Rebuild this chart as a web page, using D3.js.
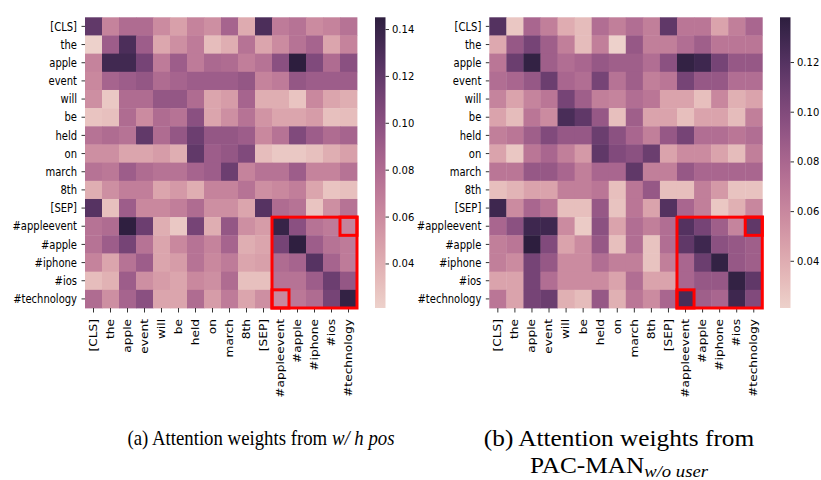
<!DOCTYPE html>
<html>
<head>
<meta charset="utf-8">
<script src="https://cdn.jsdelivr.net/npm/d3@7"></script>
<style>
  body { margin: 0; background: #fff; }
  svg { display: block; }
  .tick text { font-family: "DejaVu Sans", sans-serif; font-size: 10px; fill: #000; }
  .tick line { stroke: #333; }
  .domain { display: none; }
  .caption { font-family: "Liberation Serif", "Times New Roman", serif; fill: #000; }
</style>
</head>
<body>
<div id="chart"></div>
<script>
// tokens on both axes
const tokens = ["[CLS]", "the", "apple", "event", "will", "be", "held", "on", "march", "8th",
                "[SEP]", "#appleevent", "#apple", "#iphone", "#ios", "#technology"];

// (a) attention weights, w/ h pos  (rows = query token, cols = key token)
const weightsA = [
  [0.120, 0.065, 0.080, 0.080, 0.060, 0.048, 0.065, 0.058, 0.085, 0.042, 0.130, 0.070, 0.075, 0.060, 0.065, 0.075],
  [0.021, 0.090, 0.130, 0.090, 0.044, 0.058, 0.070, 0.032, 0.040, 0.075, 0.045, 0.060, 0.075, 0.085, 0.045, 0.065],
  [0.065, 0.135, 0.135, 0.110, 0.070, 0.090, 0.070, 0.082, 0.080, 0.068, 0.075, 0.100, 0.145, 0.105, 0.080, 0.100],
  [0.062, 0.085, 0.090, 0.095, 0.080, 0.085, 0.090, 0.090, 0.090, 0.095, 0.065, 0.070, 0.095, 0.090, 0.090, 0.090],
  [0.058, 0.026, 0.080, 0.080, 0.095, 0.095, 0.080, 0.045, 0.050, 0.085, 0.040, 0.040, 0.028, 0.062, 0.045, 0.040],
  [0.028, 0.030, 0.080, 0.060, 0.080, 0.075, 0.100, 0.045, 0.058, 0.075, 0.055, 0.045, 0.045, 0.050, 0.030, 0.032],
  [0.075, 0.080, 0.075, 0.120, 0.080, 0.095, 0.115, 0.095, 0.095, 0.090, 0.062, 0.075, 0.105, 0.090, 0.080, 0.085],
  [0.058, 0.058, 0.045, 0.045, 0.050, 0.040, 0.120, 0.090, 0.095, 0.105, 0.032, 0.026, 0.026, 0.030, 0.040, 0.048],
  [0.075, 0.072, 0.090, 0.080, 0.075, 0.075, 0.085, 0.090, 0.115, 0.065, 0.075, 0.075, 0.090, 0.065, 0.065, 0.075],
  [0.040, 0.058, 0.068, 0.068, 0.045, 0.052, 0.040, 0.065, 0.065, 0.075, 0.058, 0.062, 0.068, 0.045, 0.028, 0.030],
  [0.125, 0.030, 0.090, 0.062, 0.062, 0.068, 0.080, 0.058, 0.058, 0.045, 0.125, 0.080, 0.075, 0.028, 0.058, 0.075],
  [0.075, 0.080, 0.144, 0.115, 0.040, 0.026, 0.110, 0.040, 0.095, 0.058, 0.050, 0.140, 0.100, 0.075, 0.070, 0.065],
  [0.075, 0.090, 0.110, 0.075, 0.045, 0.062, 0.075, 0.065, 0.085, 0.040, 0.045, 0.110, 0.144, 0.090, 0.075, 0.070],
  [0.065, 0.045, 0.075, 0.090, 0.045, 0.050, 0.075, 0.062, 0.070, 0.045, 0.048, 0.080, 0.085, 0.125, 0.085, 0.070],
  [0.032, 0.038, 0.090, 0.058, 0.050, 0.045, 0.062, 0.058, 0.080, 0.030, 0.030, 0.075, 0.075, 0.090, 0.115, 0.095],
  [0.080, 0.058, 0.085, 0.100, 0.045, 0.045, 0.080, 0.050, 0.070, 0.045, 0.058, 0.062, 0.072, 0.080, 0.110, 0.142]
];

// (b) attention weights, PAC-MAN w/o user
const weightsB = [
  [0.120, 0.026, 0.080, 0.065, 0.040, 0.032, 0.075, 0.065, 0.075, 0.065, 0.115, 0.070, 0.070, 0.045, 0.065, 0.080],
  [0.042, 0.090, 0.105, 0.085, 0.065, 0.032, 0.065, 0.021, 0.090, 0.065, 0.065, 0.075, 0.085, 0.070, 0.070, 0.070],
  [0.070, 0.110, 0.135, 0.085, 0.075, 0.080, 0.090, 0.085, 0.085, 0.075, 0.095, 0.135, 0.130, 0.105, 0.090, 0.090],
  [0.075, 0.080, 0.090, 0.110, 0.080, 0.075, 0.105, 0.072, 0.085, 0.065, 0.070, 0.105, 0.090, 0.090, 0.075, 0.075],
  [0.062, 0.045, 0.062, 0.070, 0.105, 0.085, 0.065, 0.062, 0.075, 0.070, 0.045, 0.045, 0.030, 0.060, 0.038, 0.045],
  [0.045, 0.032, 0.070, 0.058, 0.125, 0.115, 0.090, 0.030, 0.085, 0.045, 0.045, 0.030, 0.045, 0.045, 0.032, 0.065],
  [0.065, 0.070, 0.085, 0.100, 0.090, 0.090, 0.110, 0.095, 0.080, 0.065, 0.090, 0.105, 0.075, 0.075, 0.070, 0.075],
  [0.045, 0.026, 0.070, 0.080, 0.065, 0.050, 0.115, 0.100, 0.095, 0.110, 0.045, 0.058, 0.058, 0.045, 0.032, 0.065],
  [0.070, 0.070, 0.090, 0.090, 0.080, 0.065, 0.080, 0.080, 0.115, 0.065, 0.065, 0.090, 0.080, 0.080, 0.080, 0.080],
  [0.030, 0.036, 0.045, 0.045, 0.065, 0.065, 0.070, 0.030, 0.070, 0.090, 0.030, 0.030, 0.065, 0.050, 0.028, 0.028],
  [0.130, 0.058, 0.080, 0.070, 0.030, 0.030, 0.090, 0.028, 0.070, 0.045, 0.120, 0.080, 0.065, 0.026, 0.038, 0.060],
  [0.080, 0.095, 0.130, 0.130, 0.058, 0.024, 0.095, 0.045, 0.075, 0.065, 0.075, 0.120, 0.105, 0.085, 0.062, 0.115],
  [0.065, 0.070, 0.138, 0.100, 0.045, 0.058, 0.090, 0.030, 0.075, 0.028, 0.075, 0.115, 0.130, 0.095, 0.090, 0.085],
  [0.065, 0.058, 0.105, 0.090, 0.058, 0.058, 0.075, 0.065, 0.065, 0.028, 0.065, 0.080, 0.110, 0.135, 0.090, 0.085],
  [0.045, 0.045, 0.105, 0.075, 0.058, 0.058, 0.058, 0.045, 0.075, 0.045, 0.045, 0.080, 0.090, 0.090, 0.135, 0.115],
  [0.070, 0.045, 0.105, 0.110, 0.038, 0.032, 0.090, 0.038, 0.070, 0.058, 0.080, 0.125, 0.085, 0.080, 0.130, 0.100]
];

const ticksA = [0.04, 0.06, 0.08, 0.10, 0.12, 0.14];
const ticksB = [0.04, 0.06, 0.08, 0.10, 0.12];

// highlighted blocks: [first row token, first col token, last row token, last col token]
const highlights = [
  ["#appleevent", "#appleevent", "#technology", "#technology"],
  ["#appleevent", "#technology", "#appleevent", "#technology"],
  ["#technology", "#appleevent", "#technology", "#appleevent"]
];

// seaborn default cubehelix_palette(as_cmap=True): start=0, rot=.4, hue=.8, light=.85, dark=.15
function cubehelixSns(t) {
  const x = 0.85 + (0.15 - 0.85) * t;
  const a = 0.8 * x * (1 - x) / 2;
  const phi = 2 * Math.PI * (0.4 * x);
  const f = (p0, p1) => Math.max(0, Math.min(1, x + a * (p0 * Math.cos(phi) + p1 * Math.sin(phi))));
  return d3.rgb(255 * f(-0.14861, 1.78277), 255 * f(-0.29227, -0.90649), 255 * f(1.97294, 0)).toString();
}

const width = 821, height = 480;
const stretch = 1.22; // the source figure is squashed wider than tall, so text runs taller

const svg = d3.select("#chart").append("svg")
              .attr("width", width)
              .attr("height", height);

function drawPanel(id, weights, ticks, left, right, cbLeft) {
  const top = 17.3, bottom = 308;
  const cells = [];
  weights.forEach((row, i) => row.forEach((v, j) => cells.push({row: tokens[i], col: tokens[j], v})));

  const x = d3.scaleBand().domain(tokens).range([left, right]);
  const y = d3.scaleBand().domain(tokens).range([top, bottom]);
  const color = d3.scaleSequential(cubehelixSns).domain(d3.extent(cells, d => d.v));

  const g = svg.append("g");

  g.append("g").selectAll("rect")
    .data(cells)
    .join("rect")
      .attr("x", d => x(d.col))
      .attr("y", d => y(d.row))
      .attr("width", x.bandwidth() + 0.4)
      .attr("height", y.bandwidth() + 0.4)
      .attr("fill", d => color(d.v));

  g.append("g")
    .attr("transform", `translate(${left},0)`)
    .call(d3.axisLeft(y).tickSize(3.5).tickPadding(4.5))
    .selectAll("text")
      .attr("transform", `scale(1,${stretch})`)
      .attr("dy", "0.34em");

  g.append("g")
    .attr("transform", `translate(0,${bottom})`)
    .call(d3.axisBottom(x).tickSize(4.5))
    .selectAll("text")
      .attr("transform", `rotate(-90) scale(${stretch},1)`)
      .attr("text-anchor", "end")
      .attr("dy", "0.34em")
      .attr("x", -9)
      .attr("y", 0);

  // red highlight boxes
  g.append("g").selectAll("rect")
    .data(highlights)
    .join("rect")
      .attr("x", d => x(d[1]))
      .attr("y", d => y(d[0]))
      .attr("width", d => x(d[3]) + x.bandwidth() - x(d[1]))
      .attr("height", d => y(d[2]) + y.bandwidth() - y(d[0]))
      .attr("fill", "none")
      .attr("stroke", "#ff0000")
      .attr("stroke-width", 3);

  // colorbar
  const [vmin, vmax] = color.domain();
  const grad = svg.append("defs").append("linearGradient")
    .attr("id", id)
    .attr("x1", 0).attr("y1", 1).attr("x2", 0).attr("y2", 0);
  d3.range(0, 1.0001, 0.05).forEach(t => {
    grad.append("stop").attr("offset", t).attr("stop-color", cubehelixSns(t));
  });
  const cbWidth = 10.5;
  g.append("rect")
    .attr("x", cbLeft).attr("y", top)
    .attr("width", cbWidth).attr("height", bottom - top)
    .attr("fill", `url(#${id})`);
  const cbScale = d3.scaleLinear().domain([vmin, vmax]).range([bottom, top]);
  g.append("g")
    .attr("transform", `translate(${cbLeft + cbWidth},0)`)
    .call(d3.axisRight(cbScale).tickValues(ticks).tickFormat(d3.format(".2f")).tickSize(3.5).tickPadding(3))
    .selectAll("text")
      .attr("transform", "scale(1,1.1)");
}

drawPanel("cbA", weightsA, ticksA, 85, 357, 375);
drawPanel("cbB", weightsB, ticksB, 489.3, 762.3, 780);

// captions
const capA = svg.append("g")
  .attr("transform", "translate(261,0) scale(0.94,1)")
  .append("text").attr("class", "caption")
  .attr("x", 0).attr("y", 445).attr("text-anchor", "middle")
  .attr("font-size", 20);
capA.append("tspan").text("(a) Attention weights from ");
capA.append("tspan").attr("font-style", "italic").text("w/ h pos");

// caption (b) is set larger and a little wider in the source
const capB = svg.append("g")
  .attr("transform", "translate(619,0) scale(1.1,1)");
capB.append("text").attr("class", "caption")
  .attr("x", 0).attr("y", 446.5).attr("text-anchor", "middle")
  .attr("font-size", 23)
  .text("(b) Attention weights from");
const capB2 = capB.append("text").attr("class", "caption")
  .attr("x", 0).attr("y", 473).attr("text-anchor", "middle")
  .attr("font-size", 23);
capB2.append("tspan").text("PAC-MAN");
capB2.append("tspan").attr("font-style", "italic").attr("font-size", 17).attr("dy", 4.5).text("w/o user");
</script>
</body>
</html>
